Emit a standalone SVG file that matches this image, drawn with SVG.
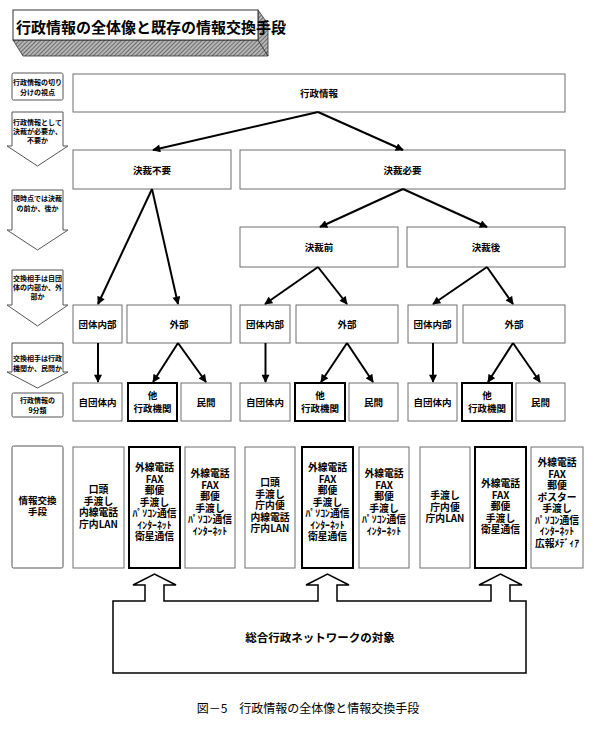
<svg xmlns="http://www.w3.org/2000/svg" width="600" height="730" viewBox="0 0 600 730">
<defs>
<pattern id="hatch" width="3" height="3" patternUnits="userSpaceOnUse" patternTransform="rotate(45)">
<rect width="3" height="3" fill="#b5b5b5"/>
<line x1="0" y1="0" x2="0" y2="3" stroke="#555" stroke-width="1.5"/>
</pattern>
<marker id="ah" viewBox="0 0 10 10" refX="9" refY="5" markerWidth="9" markerHeight="8" markerUnits="userSpaceOnUse" orient="auto">
<path d="M0,0 L10,5 L0,10 Z" fill="#000"/>
</marker>
<style>
.bx{fill:#fff;stroke:#6e6e6e;stroke-width:1}
.tk{fill:#fff;stroke:#000;stroke-width:2}
.lb{fill:#fff;stroke:#555;stroke-width:1}
text{font-family:"Noto Sans CJK JP","Noto Sans CJK SC",sans-serif;fill:#000;text-anchor:middle;dominant-baseline:central;font-weight:bold}
.s{font-size:7px}
.m{font-size:9.5px}
.b{font-size:9.8px}
.cn{stroke:#000;stroke-width:2;fill:none;marker-end:url(#ah)}
</style>
</defs>
<rect width="600" height="730" fill="#fff"/>

<g id="title">
<polygon points="13,40 258,40 268,56 23,56" fill="url(#hatch)" stroke="#333" stroke-width="0.8"/>
<polygon points="258,10 268,24 268,56 258,40" fill="url(#hatch)" stroke="#333" stroke-width="0.8"/>
<rect x="13" y="10" width="245" height="30" fill="#fff" stroke="#333" stroke-width="1"/>
<text x="151" y="26" style="font-size:15px;font-weight:bold">行政情報の全体像と既存の情報交換手段</text>
</g>

<g id="legend1"><rect class="lb" x="12" y="73" width="51" height="27" rx="1.5"/>
<text class="s" x="37.5" y="82">行政情報の切り</text><text class="s" x="37.5" y="92">分けの視点</text></g>
<g id="legend2"><path class="lb" d="M12,112 H63 V146 H68 L37.5,166 L7,146 H12 Z"/>
<text class="s" x="37.5" y="122">行政情報として</text><text class="s" x="37.5" y="131">決裁が必要か、</text><text class="s" x="37.5" y="140">不要か</text></g>
<g id="legend3"><path class="lb" d="M12,190 H63 V230 H68 L37.5,250 L7,230 H12 Z"/>
<text class="s" x="37.5" y="198">現時点では決裁</text><text class="s" x="37.5" y="208">の前か、後か</text></g>
<g id="legend4"><path class="lb" d="M12,270 H63 V305 H68 L37.5,326 L7,305 H12 Z"/>
<text class="s" x="37.5" y="278">交換相手は自団</text><text class="s" x="37.5" y="287">体の内部か、外</text><text class="s" x="37.5" y="296">部か</text></g>
<g id="legend5"><path class="lb" d="M12,343 H63 V372 H68 L37.5,388 L7,372 H12 Z"/>
<text class="s" x="37.5" y="358">交換相手は行政</text><text class="s" x="37.5" y="368">機関か、民間か</text></g>
<g id="legend6"><rect class="lb" x="12" y="393" width="51" height="24" rx="1.5"/>
<text class="s" x="37.5" y="400">行政情報の</text><text class="s" x="37.5" y="410">9分類</text></g>
<g id="legend7"><rect class="lb" x="12" y="446" width="51" height="122" rx="1.5"/>
<text class="m" x="37.5" y="500">情報交換</text><text class="m" x="37.5" y="511">手段</text></g>

<g id="n-root"><rect class="bx" x="73" y="74" width="492" height="38"/><text class="m" x="319" y="93">行政情報</text></g>
<g id="n-fuyo"><rect class="bx" x="73" y="150" width="158" height="39"/><text class="m" x="152" y="169.5">決裁不要</text></g>
<g id="n-hitsuyo"><rect class="bx" x="240" y="150" width="325" height="39"/><text class="m" x="402.5" y="169.5">決裁必要</text></g>
<g id="n-mae"><rect class="bx" x="240" y="227" width="158" height="40"/><text class="m" x="319" y="247">決裁前</text></g>
<g id="n-ato"><rect class="bx" x="407" y="227" width="158" height="40"/><text class="m" x="486" y="247">決裁後</text></g>

<g id="n-nai1"><rect class="bx" x="73" y="305" width="49" height="38"/><text class="m" x="97.5" y="324">団体内部</text></g>
<g id="n-gai1"><rect class="bx" x="127" y="305" width="104" height="38"/><text class="m" x="179" y="324">外部</text></g>
<g id="n-nai2"><rect class="bx" x="240" y="305" width="50" height="38"/><text class="m" x="265" y="324">団体内部</text></g>
<g id="n-gai2"><rect class="bx" x="296" y="305" width="102" height="38"/><text class="m" x="347" y="324">外部</text></g>
<g id="n-nai3"><rect class="bx" x="408" y="305" width="49" height="38"/><text class="m" x="432.5" y="324">団体内部</text></g>
<g id="n-gai3"><rect class="bx" x="463" y="305" width="102" height="38"/><text class="m" x="514" y="324">外部</text></g>

<g id="n-ji1"><rect class="bx" x="73" y="383" width="49" height="38"/><text class="m" x="97.5" y="402">自団体内</text></g>
<g id="n-ta1"><rect class="tk" x="128" y="383" width="49" height="38"/><text class="m" x="152.5" y="395">他</text><text class="m" x="152.5" y="408">行政機関</text></g>
<g id="n-min1"><rect class="bx" x="181" y="383" width="50" height="38"/><text class="m" x="206" y="402">民間</text></g>
<g id="n-ji2"><rect class="bx" x="240" y="383" width="50" height="38"/><text class="m" x="265" y="402">自団体内</text></g>
<g id="n-ta2"><rect class="tk" x="295" y="383" width="50" height="38"/><text class="m" x="320" y="395">他</text><text class="m" x="320" y="408">行政機関</text></g>
<g id="n-min2"><rect class="bx" x="349" y="383" width="49" height="38"/><text class="m" x="373.5" y="402">民間</text></g>
<g id="n-ji3"><rect class="bx" x="408" y="383" width="49" height="38"/><text class="m" x="432.5" y="402">自団体内</text></g>
<g id="n-ta3"><rect class="tk" x="462" y="383" width="50" height="38"/><text class="m" x="487" y="395">他</text><text class="m" x="487" y="408">行政機関</text></g>
<g id="n-min3"><rect class="bx" x="516" y="383" width="49" height="38"/><text class="m" x="540.5" y="402">民間</text></g>

<g id="m-1a"><rect class="bx" x="73" y="447" width="51" height="121"/>
<text class="b" x="98.5" y="489">口頭</text><text class="b" x="98.5" y="500.5">手渡し</text><text class="b" x="98.5" y="512">内線電話</text><text class="b" x="98.5" y="523.5">庁内LAN</text></g>
<g id="m-1b"><rect class="tk" x="129" y="447" width="51" height="121"/>
<text class="b" x="154.5" y="467">外線電話</text><text class="b" x="154.5" y="478.5">FAX</text><text class="b" x="154.5" y="490">郵便</text><text class="b" x="154.5" y="501.5">手渡し</text><text class="b" x="154.5" y="513">ﾊﾟｿｺﾝ通信</text><text class="b" x="154.5" y="524.5">ｲﾝﾀｰﾈｯﾄ</text><text class="b" x="154.5" y="536">衛星通信</text></g>
<g id="m-1c"><rect class="bx" x="185" y="447" width="50" height="121"/>
<text class="b" x="210" y="473">外線電話</text><text class="b" x="210" y="484.5">FAX</text><text class="b" x="210" y="496">郵便</text><text class="b" x="210" y="507.5">手渡し</text><text class="b" x="210" y="519">ﾊﾟｿｺﾝ通信</text><text class="b" x="210" y="530.5">ｲﾝﾀｰﾈｯﾄ</text></g>
<g id="m-2a"><rect class="bx" x="245" y="447" width="50" height="121"/>
<text class="b" x="270" y="482">口頭</text><text class="b" x="270" y="493.5">手渡し</text><text class="b" x="270" y="505">庁内便</text><text class="b" x="270" y="516.5">内線電話</text><text class="b" x="270" y="528">庁内LAN</text></g>
<g id="m-2b"><rect class="tk" x="302" y="447" width="51" height="121"/>
<text class="b" x="327.5" y="467">外線電話</text><text class="b" x="327.5" y="478.5">FAX</text><text class="b" x="327.5" y="490">郵便</text><text class="b" x="327.5" y="501.5">手渡し</text><text class="b" x="327.5" y="513">ﾊﾟｿｺﾝ通信</text><text class="b" x="327.5" y="524.5">ｲﾝﾀｰﾈｯﾄ</text><text class="b" x="327.5" y="536">衛星通信</text></g>
<g id="m-2c"><rect class="bx" x="359" y="447" width="50" height="121"/>
<text class="b" x="384" y="473">外線電話</text><text class="b" x="384" y="484.5">FAX</text><text class="b" x="384" y="496">郵便</text><text class="b" x="384" y="507.5">手渡し</text><text class="b" x="384" y="519">ﾊﾟｿｺﾝ通信</text><text class="b" x="384" y="530.5">ｲﾝﾀｰﾈｯﾄ</text></g>
<g id="m-3a"><rect class="bx" x="420" y="447" width="50" height="121"/>
<text class="b" x="445" y="495">手渡し</text><text class="b" x="445" y="506.5">庁内便</text><text class="b" x="445" y="518">庁内LAN</text></g>
<g id="m-3b"><rect class="tk" x="475" y="447" width="51" height="121"/>
<text class="b" x="500.5" y="483">外線電話</text><text class="b" x="500.5" y="494.5">FAX</text><text class="b" x="500.5" y="506">郵便</text><text class="b" x="500.5" y="517.5">手渡し</text><text class="b" x="500.5" y="529">衛星通信</text></g>
<g id="m-3c"><rect class="bx" x="531" y="447" width="52" height="121"/>
<text class="b" x="557" y="462">外線電話</text><text class="b" x="557" y="473.5">FAX</text><text class="b" x="557" y="485">郵便</text><text class="b" x="557" y="496.5">ポスター</text><text class="b" x="557" y="508">手渡し</text><text class="b" x="557" y="519.5">ﾊﾟｿｺﾝ通信</text><text class="b" x="557" y="531">ｲﾝﾀｰﾈｯﾄ</text><text class="b" x="557" y="542.5">広報ﾒﾃﾞｨｱ</text></g>

<g id="network">
<path d="M113,673 V601 H145 V585 H133 L154.5,574 L176,585 H164 V601 H318 V585 H306 L327.5,574 L349,585 H337 V601 H491 V585 H479 L500.5,574 L522,585 H510 V601 H526 V673 Z" fill="#fff" stroke="#000" stroke-width="1.5"/>
<text x="320" y="637" style="font-size:11.5px">総合行政ネットワークの対象</text>
</g>

<g id="connectors">
<line class="cn" x1="318" y1="112" x2="153" y2="150"/>
<line class="cn" x1="318" y1="112" x2="403" y2="150"/>
<line class="cn" x1="152" y1="189" x2="98" y2="304"/>
<line class="cn" x1="152" y1="189" x2="178" y2="304"/>
<line class="cn" x1="403" y1="189" x2="320" y2="227"/>
<line class="cn" x1="403" y1="189" x2="487" y2="227"/>
<line class="cn" x1="318" y1="267" x2="265" y2="304"/>
<line class="cn" x1="318" y1="267" x2="347" y2="304"/>
<line class="cn" x1="487" y1="267" x2="433" y2="304"/>
<line class="cn" x1="487" y1="267" x2="513" y2="304"/>
<line class="cn" x1="98" y1="343" x2="98" y2="382"/>
<line class="cn" x1="178" y1="343" x2="153" y2="382"/>
<line class="cn" x1="178" y1="343" x2="206" y2="382"/>
<line class="cn" x1="265.5" y1="343" x2="265.5" y2="382"/>
<line class="cn" x1="347" y1="343" x2="321" y2="382"/>
<line class="cn" x1="347" y1="343" x2="373" y2="382"/>
<line class="cn" x1="433" y1="343" x2="433" y2="382"/>
<line class="cn" x1="513" y1="343" x2="488" y2="382"/>
<line class="cn" x1="513" y1="343" x2="540" y2="382"/>
</g>

<text x="308" y="707" style="font-size:12px;font-weight:normal">図－5　行政情報の全体像と情報交換手段</text>
</svg>
